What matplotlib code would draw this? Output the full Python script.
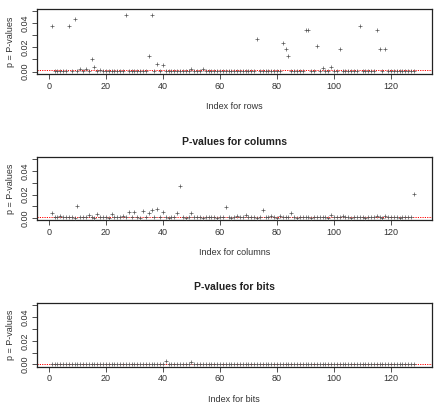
import matplotlib
matplotlib.use("Agg")
import matplotlib.pyplot as plt
import numpy as np

plt.rcParams["font.family"] = ["Liberation Sans", "DejaVu Sans"]

# p-values, index 1..128
rows_p = [
    0.0375, 0.0003, 0.0004, 0.0003, 0.0002, 0.0003, 0.0375, 0.0003,
    0.0434, 0.0008, 0.0020, 0.0005, 0.0017, 0.0003, 0.0100, 0.0039,
    0.0003, 0.0010, 0.0003, 0.0004, 0.0003, 0.0002, 0.0003, 0.0003,
    0.0004, 0.0003, 0.0470, 0.0003, 0.0002, 0.0003, 0.0003, 0.0002,
    0.0008, 0.0003, 0.0131, 0.0470, 0.0003, 0.0062, 0.0003, 0.0056,
    0.0003, 0.0002, 0.0003, 0.0003, 0.0004, 0.0003, 0.0003, 0.0002,
    0.0003, 0.0025, 0.0003, 0.0004, 0.0003, 0.0020, 0.0003, 0.0003,
    0.0002, 0.0003, 0.0003, 0.0004, 0.0003, 0.0003, 0.0002, 0.0003,
    0.0003, 0.0004, 0.0003, 0.0003, 0.0002, 0.0003, 0.0003, 0.0003,
    0.0274, 0.0003, 0.0002, 0.0003, 0.0003, 0.0004, 0.0003, 0.0003,
    0.0003, 0.0235, 0.0185, 0.0129, 0.0003, 0.0003, 0.0004, 0.0003,
    0.0002, 0.0347, 0.0347, 0.0003, 0.0003, 0.0215, 0.0003, 0.0028,
    0.0003, 0.0004, 0.0039, 0.0003, 0.0002, 0.0185, 0.0008, 0.0003,
    0.0003, 0.0004, 0.0003, 0.0002, 0.0375, 0.0003, 0.0003, 0.0004,
    0.0003, 0.0002, 0.0347, 0.0185, 0.0003, 0.0185, 0.0003, 0.0004,
    0.0003, 0.0002, 0.0003, 0.0003, 0.0004, 0.0003, 0.0002, 0.0003,
]
cols_p = [
    0.0042, 0.0003, 0.0010, 0.0013, 0.0008, 0.0003, 0.0004, 0.0003,
    0.0002, 0.0100, 0.0003, 0.0004, 0.0003, 0.0028, 0.0003, 0.0002,
    0.0036, 0.0003, 0.0004, 0.0003, 0.0002, 0.0030, 0.0003, 0.0004,
    0.0003, 0.0012, 0.0006, 0.0047, 0.0003, 0.0053, 0.0003, 0.0002,
    0.0058, 0.0003, 0.0040, 0.0070, 0.0003, 0.0078, 0.0003, 0.0047,
    0.0003, 0.0002, 0.0003, 0.0004, 0.0042, 0.0270, 0.0003, 0.0002,
    0.0003, 0.0042, 0.0003, 0.0004, 0.0003, 0.0002, 0.0003, 0.0003,
    0.0004, 0.0003, 0.0002, 0.0003, 0.0003, 0.0089, 0.0003, 0.0002,
    0.0003, 0.0019, 0.0010, 0.0003, 0.0025, 0.0003, 0.0004, 0.0003,
    0.0002, 0.0003, 0.0064, 0.0003, 0.0004, 0.0012, 0.0003, 0.0002,
    0.0012, 0.0003, 0.0004, 0.0003, 0.0042, 0.0003, 0.0002, 0.0003,
    0.0003, 0.0004, 0.0003, 0.0002, 0.0010, 0.0003, 0.0003, 0.0004,
    0.0003, 0.0002, 0.0028, 0.0008, 0.0003, 0.0003, 0.0012, 0.0010,
    0.0003, 0.0002, 0.0003, 0.0004, 0.0003, 0.0003, 0.0002, 0.0003,
    0.0004, 0.0003, 0.0019, 0.0003, 0.0002, 0.0012, 0.0003, 0.0004,
    0.0003, 0.0003, 0.0002, 0.0003, 0.0004, 0.0003, 0.0003, 0.0203,
]
bits_p = [
    0.0002, 0.0002, 0.0001, 0.0002, 0.0002, 0.0001, 0.0002, 0.0002,
    0.0001, 0.0002, 0.0002, 0.0001, 0.0002, 0.0002, 0.0001, 0.0002,
    0.0002, 0.0001, 0.0002, 0.0002, 0.0001, 0.0002, 0.0002, 0.0001,
    0.0002, 0.0002, 0.0001, 0.0002, 0.0002, 0.0001, 0.0002, 0.0002,
    0.0001, 0.0002, 0.0002, 0.0001, 0.0002, 0.0002, 0.0004, 0.0002,
    0.0028, 0.0002, 0.0001, 0.0002, 0.0002, 0.0001, 0.0002, 0.0002,
    0.0004, 0.0020, 0.0002, 0.0001, 0.0002, 0.0006, 0.0002, 0.0001,
    0.0002, 0.0002, 0.0001, 0.0002, 0.0002, 0.0001, 0.0002, 0.0002,
    0.0001, 0.0002, 0.0002, 0.0001, 0.0002, 0.0002, 0.0001, 0.0002,
    0.0002, 0.0001, 0.0002, 0.0002, 0.0001, 0.0002, 0.0002, 0.0001,
    0.0002, 0.0002, 0.0001, 0.0002, 0.0002, 0.0001, 0.0002, 0.0002,
    0.0001, 0.0002, 0.0008, 0.0002, 0.0001, 0.0002, 0.0002, 0.0001,
    0.0002, 0.0002, 0.0001, 0.0002, 0.0002, 0.0001, 0.0002, 0.0002,
    0.0001, 0.0002, 0.0002, 0.0001, 0.0002, 0.0002, 0.0001, 0.0002,
    0.0002, 0.0001, 0.0002, 0.0002, 0.0001, 0.0002, 0.0002, 0.0001,
    0.0002, 0.0002, 0.0001, 0.0002, 0.0002, 0.0001, 0.0002, 0.0002,
]
thresholds = [0.001, 0.001, 0.0002]
names = ["rows", "columns", "bits"]
titles = [None, "P-values for columns", "P-values for bits"]

fig = plt.figure(figsize=(4.34, 4.04), dpi=100)
boxes = [(0.085, 0.817, 0.910, 0.161),
         (0.085, 0.455, 0.910, 0.156),
         (0.085, 0.092, 0.910, 0.158)]

for p, thr, name, title, box in zip([rows_p, cols_p, bits_p], thresholds, names, titles, boxes):
    ax = fig.add_axes(box)
    idx = np.arange(1, len(p) + 1)
    ax.scatter(idx, p, marker="+", s=8, c="#555555", linewidths=0.5, zorder=3)
    ax.axhline(thr, color="red", ls=(0, (1.2, 1.2)), lw=0.7, zorder=2)
    ax.set_xlim(-4.2, 134.3)
    ax.set_ylim(-0.002, 0.052)
    ax.set_xticks([0, 20, 40, 60, 80, 100, 120])
    ax.set_yticks([0.0, 0.01, 0.02, 0.03, 0.04, 0.05])
    ax.set_yticklabels(["0.00", "", "0.02", "", "0.04", ""], rotation=90, va="center")
    ax.tick_params(direction="out", length=3.5, width=0.6, labelsize=6.5, color="#333333",
                   labelcolor="#333333", pad=2)
    for s in ax.spines.values():
        s.set_linewidth(0.9)
        s.set_color("#222222")
    ax.set_xlabel("Index for " + name, fontsize=6.5, color="#333333", labelpad=8)
    ax.set_ylabel("p = P-values", fontsize=6.5, color="#333333", labelpad=4)
    if title:
        ax.set_title(title, fontsize=7.5, fontweight="bold", color="#222222", pad=9)

fig.savefig("out.png", dpi=100)
